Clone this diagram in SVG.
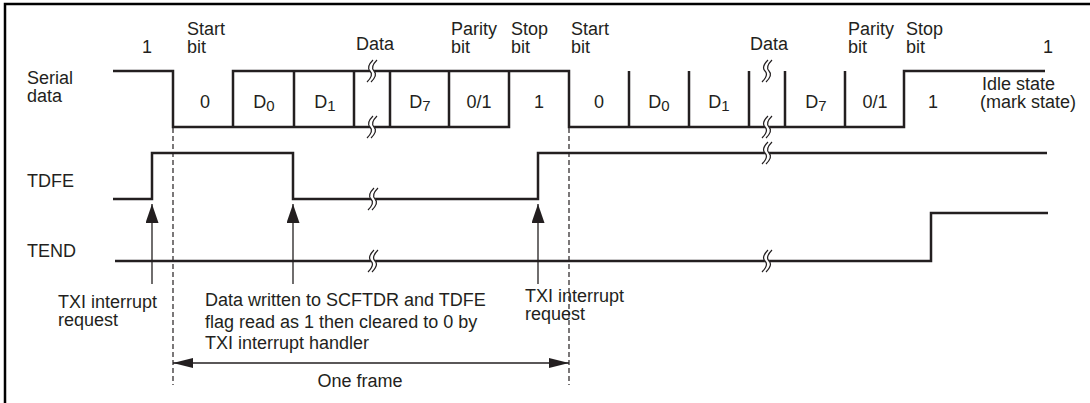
<svg xmlns="http://www.w3.org/2000/svg" width="1090" height="403" viewBox="0 0 1090 403">
<style>
text{font-family:"Liberation Sans",Arial,Helvetica,sans-serif;font-size:18px;fill:#231f20}
.m{text-anchor:middle}
.sub{font-size:15px}
.sig{fill:none;stroke:#231f20;stroke-width:2.5;stroke-linejoin:miter;stroke-linecap:butt}
.thin{fill:none;stroke:#231f20;stroke-width:1.3}
.dash{fill:none;stroke:#231f20;stroke-width:1.2;stroke-dasharray:5,3}
.frame{fill:none;stroke:#000;stroke-width:2.5}
</style>
<defs>
<marker id="ah" viewBox="0 0 20 10" refX="20" refY="5" markerWidth="20" markerHeight="10" markerUnits="userSpaceOnUse" orient="auto-start-reverse"><path d="M0,0 L20,5 L0,10 Z" fill="#231f20"/></marker>
<marker id="au" viewBox="0 0 19 13" refX="19" refY="6.5" markerWidth="19" markerHeight="13" markerUnits="userSpaceOnUse" orient="auto"><path d="M0,0 L19,6.5 L0,13 Z" fill="#231f20"/></marker>
<g id="brk">
<path d="M3,-11 Q-4,-4 0,0 Q4,4 -3,11" fill="none" stroke="#fff" stroke-width="4"/>
<path d="M1,-11 Q-6,-4 -2,0 Q2,4 -5,11" fill="none" stroke="#231f20" stroke-width="1.2"/>
<path d="M5,-11 Q-2,-4 2,0 Q6,4 -1,11" fill="none" stroke="#231f20" stroke-width="1.2"/>
</g>
</defs>

<path class="frame" d="M5,403 V4 H1090"/>

<g id="serial-data">
<text x="27" y="84">Serial</text>
<text x="27" y="102">data</text>
<path class="sig" d="M113,71 H173 V127 H509 V71"/>
<path class="sig" d="M233,127 V71 H569 V127 H904 V71 H1045"/>
<path class="sig" d="M629,127 V71"/>
<path class="sig" d="M294,71 V127 M354,71 V127 M390,71 V127 M449,71 V127"/>
<path class="sig" d="M689,71 V127 M749,71 V127 M785,71 V127 M845,71 V127"/>
<use href="#brk" x="372" y="71"/>
<use href="#brk" x="372" y="127"/>
<use href="#brk" x="767" y="71"/>
<use href="#brk" x="767" y="127"/>
<text class="m" x="205" y="108">0</text>
<text class="m" x="264" y="108">D<tspan class="sub" dy="3">0</tspan></text>
<text class="m" x="325" y="108">D<tspan class="sub" dy="3">1</tspan></text>
<text class="m" x="420" y="108">D<tspan class="sub" dy="3">7</tspan></text>
<text class="m" x="479" y="108">0/1</text>
<text class="m" x="539" y="108">1</text>
<text class="m" x="599" y="108">0</text>
<text class="m" x="659" y="108">D<tspan class="sub" dy="3">0</tspan></text>
<text class="m" x="719" y="108">D<tspan class="sub" dy="3">1</tspan></text>
<text class="m" x="816" y="108">D<tspan class="sub" dy="3">7</tspan></text>
<text class="m" x="875" y="108">0/1</text>
<text class="m" x="933" y="108">1</text>
<text x="982" y="90">Idle state</text>
<text x="980" y="108">(mark state)</text>
</g>

<g id="bit-labels">
<text class="m" x="147" y="53">1</text>
<text x="187" y="35">Start</text>
<text x="187" y="53">bit</text>
<text class="m" x="375" y="50">Data</text>
<text x="451" y="35">Parity</text>
<text x="451" y="53">bit</text>
<text x="511" y="35">Stop</text>
<text x="511" y="53">bit</text>
<text x="571" y="35">Start</text>
<text x="571" y="53">bit</text>
<text class="m" x="769" y="50">Data</text>
<text x="848" y="35">Parity</text>
<text x="848" y="53">bit</text>
<text x="906" y="35">Stop</text>
<text x="906" y="53">bit</text>
<text class="m" x="1048" y="53">1</text>
</g>

<g id="tdfe">
<text x="27" y="187">TDFE</text>
<path class="sig" d="M113,199 H152 V153 H293 V199 H538 V153 H1047"/>
<use href="#brk" x="373" y="199"/>
<use href="#brk" x="767" y="153"/>
</g>

<g id="tend">
<text x="27" y="257">TEND</text>
<path class="sig" d="M115,261 H931 V213 H1048"/>
<use href="#brk" x="373" y="261"/>
<use href="#brk" x="767" y="261"/>
</g>

<g id="connectors">
<path class="dash" d="M173,128 V385"/>
<path class="dash" d="M569,128 V385"/>
<path class="thin" d="M152,284 V204" marker-end="url(#au)"/>
<path class="thin" d="M293,284 V204" marker-end="url(#au)"/>
<path class="thin" d="M538,284 V204" marker-end="url(#au)"/>
<path class="thin" d="M173,363 H569" marker-start="url(#ah)" marker-end="url(#ah)"/>
</g>

<g id="annotations">
<text x="58" y="308">TXI interrupt</text>
<text x="58" y="326">request</text>
<text x="205" y="306">Data written to SCFTDR and TDFE</text>
<text x="205" y="328">flag read as 1 then cleared to 0 by</text>
<text x="205" y="349">TXI interrupt handler</text>
<text x="525" y="302">TXI interrupt</text>
<text x="525" y="320">request</text>
<text class="m" x="360" y="387">One frame</text>
</g>
</svg>
